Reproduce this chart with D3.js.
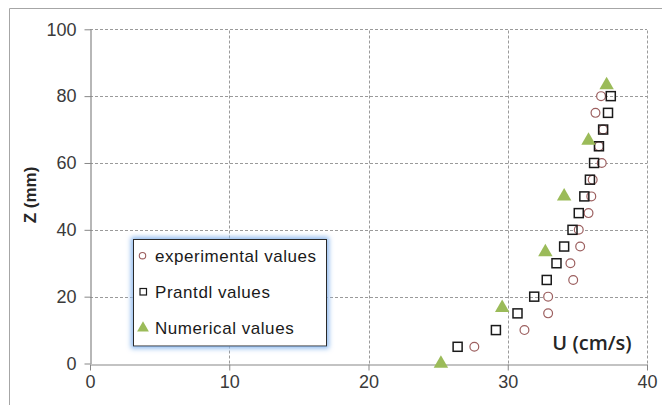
<!DOCTYPE html>
<html>
<head>
<meta charset="utf-8">
<script src="https://cdn.jsdelivr.net/npm/d3@7"></script>
<style>
  html, body { margin: 0; padding: 0; background: #fff; }
  svg { display: block; }
</style>
</head>
<body>
<svg id="chart" width="663" height="405"></svg>
<script>
// Velocity profile: height Z (mm) against velocity U (cm/s)
const xTicks = [0, 10, 20, 30, 40];
const yTicks = [0, 20, 40, 60, 80, 100];

const expZ = [5, 10, 15, 20, 25, 30, 35, 40, 45, 50, 55, 60, 65, 70, 75, 80];
const expU = [27.6, 31.2, 32.9, 32.9, 34.7, 34.5, 35.2, 35.1, 35.8, 36.0, 36.1, 36.75, 36.55, 36.85, 36.3, 36.7];

const prandtlZ = [5, 10, 15, 20, 25, 30, 35, 40, 45, 50, 55, 60, 65, 70, 75, 80];
const prandtlU = [26.4, 29.15, 30.7, 31.9, 32.8, 33.5, 34.05, 34.65, 35.1, 35.5, 35.9, 36.2, 36.55, 36.85, 37.2, 37.4];

const numZ = [0, 16.67, 33.33, 50, 66.67, 83.33];
const numU = [25.2, 29.6, 32.7, 34.05, 35.8, 37.1];

const svg = d3.select("#chart");

// chart frame
svg.append("path")
  .attr("d", "M9.5,405 V8.5 H662")
  .attr("fill", "none")
  .attr("stroke", "#a6a6a6")
  .attr("stroke-width", 1);

const x = d3.scaleLinear().domain([0, 40]).range([90, 647]);
const y = d3.scaleLinear().domain([0, 100]).range([363.5, 29.3]);

// gridlines
const grid = svg.append("g");
grid.selectAll(".hg").data(yTicks.filter(d => d > 0)).join("line")
  .attr("x1", x(0)).attr("x2", x(40))
  .attr("y1", d => Math.round(y(d)) + 0.5).attr("y2", d => Math.round(y(d)) + 0.5)
  .attr("stroke", "#9a9a9a").attr("stroke-dasharray", "3,2");
grid.selectAll(".vg").data(xTicks.filter(d => d > 0)).join("line")
  .attr("y1", y(0)).attr("y2", y(100))
  .attr("x1", d => Math.round(x(d)) + 0.5).attr("x2", d => Math.round(x(d)) + 0.5)
  .attr("stroke", "#9a9a9a").attr("stroke-dasharray", "3,2");

// axes
const xAxis = d3.axisBottom(x).tickValues(xTicks).tickSize(6).tickPadding(5).tickSizeOuter(0);
const yAxis = d3.axisLeft(y).tickValues(yTicks).tickSize(6).tickPadding(8).tickSizeOuter(0);

const gx = svg.append("g").attr("transform", `translate(0,${Math.round(y(0)) + 0.5})`).call(xAxis);
const gy = svg.append("g").attr("transform", `translate(${Math.round(x(0)) + 0.5},0)`).call(yAxis);

[gx, gy].forEach(g => {
  g.select(".domain").attr("stroke", "#878787").attr("stroke-width", 1.2);
  g.selectAll(".tick line").attr("stroke", "#878787");
  g.selectAll(".tick text")
    .attr("fill", "#3a3a3a")
    .style("font-family", "'Liberation Sans', Arial, sans-serif")
    .style("font-size", "18px");
});

// series markers
const plot = svg.append("g");

plot.selectAll(".exp").data(expZ).join("circle")
  .attr("cx", (d, i) => x(expU[i]))
  .attr("cy", d => y(d))
  .attr("r", 4.4)
  .attr("fill", "#fff")
  .attr("stroke", "#9c5f5f")
  .attr("stroke-width", 1.2);

plot.selectAll(".pr").data(prandtlZ).join("rect")
  .attr("x", (d, i) => x(prandtlU[i]) - 4.5)
  .attr("y", d => y(d) - 4.5)
  .attr("width", 9).attr("height", 9)
  .attr("fill", "none")
  .attr("stroke", "#1a1a1a")
  .attr("stroke-width", 1.5);

const tri = d3.symbol().type(d3.symbolTriangle).size(90);
plot.selectAll(".num").data(numZ).join("path")
  .attr("d", tri)
  .attr("transform", (d, i) => `translate(${x(numU[i])},${y(d)})`)
  .attr("fill", "#9bbb59");

// axis titles
svg.append("text")
  .attr("transform", "translate(36,195) rotate(-90)")
  .attr("text-anchor", "middle")
  .style("font-family", "'Liberation Sans', Arial, sans-serif")
  .style("font-weight", "bold")
  .style("font-size", "17px")
  .attr("fill", "#262626")
  .text("Z (mm)");

svg.append("text")
  .attr("x", 592).attr("y", 350)
  .attr("text-anchor", "middle")
  .style("font-family", "'Open Sans', sans-serif")
  .style("font-weight", "600")
  .style("font-size", "20px")
  .attr("fill", "#262626")
  .text("U (cm/s)");

// legend
const defs = svg.append("defs");
const glow = defs.append("filter").attr("id", "glow")
  .attr("x", "-10%").attr("y", "-15%").attr("width", "120%").attr("height", "130%");
glow.append("feMorphology").attr("in", "SourceAlpha").attr("operator", "dilate").attr("radius", 1.5).attr("result", "d");
glow.append("feGaussianBlur").attr("in", "d").attr("stdDeviation", 2.5).attr("result", "b");
glow.append("feFlood").attr("flood-color", "#8db9ee").attr("flood-opacity", 1);
glow.append("feComposite").attr("in2", "b").attr("operator", "in").attr("result", "g");
const fm = glow.append("feMerge");
fm.append("feMergeNode").attr("in", "g");
fm.append("feMergeNode").attr("in", "SourceGraphic");

const legendItems = ["experimental values", "Prantdl values", "Numerical values"];
const lg = svg.append("g");
lg.append("rect")
  .attr("x", 133.5).attr("y", 239.5).attr("width", 193).attr("height", 106.5)
  .attr("fill", "#fff").attr("stroke", "#2b2b2b").attr("stroke-width", 1)
  .attr("filter", "url(#glow)");

const rows = lg.selectAll(".row").data(legendItems).join("g")
  .attr("transform", (d, i) => `translate(0,${261.7 + i * 36.3})`);
rows.append("text")
  .attr("x", 155).attr("y", 0)
  .style("font-family", "'Liberation Sans', Arial, sans-serif")
  .style("font-size", "17px")
  .style("letter-spacing", "0.55px")
  .attr("fill", "#1a1a1a")
  .text(d => d);

lg.append("circle").attr("cx", 142.5).attr("cy", 255.7).attr("r", 3.2)
  .attr("fill", "#fff").attr("stroke", "#9c5f5f").attr("stroke-width", 1.1);
lg.append("rect").attr("x", 140).attr("y", 288.5).attr("width", 6.5).attr("height", 6.5)
  .attr("fill", "none").attr("stroke", "#1a1a1a").attr("stroke-width", 1.2);
lg.append("path").attr("d", d3.symbol().type(d3.symbolTriangle).size(60))
  .attr("transform", "translate(143,328)")
  .attr("fill", "#9bbb59");
</script>
</body>
</html>
